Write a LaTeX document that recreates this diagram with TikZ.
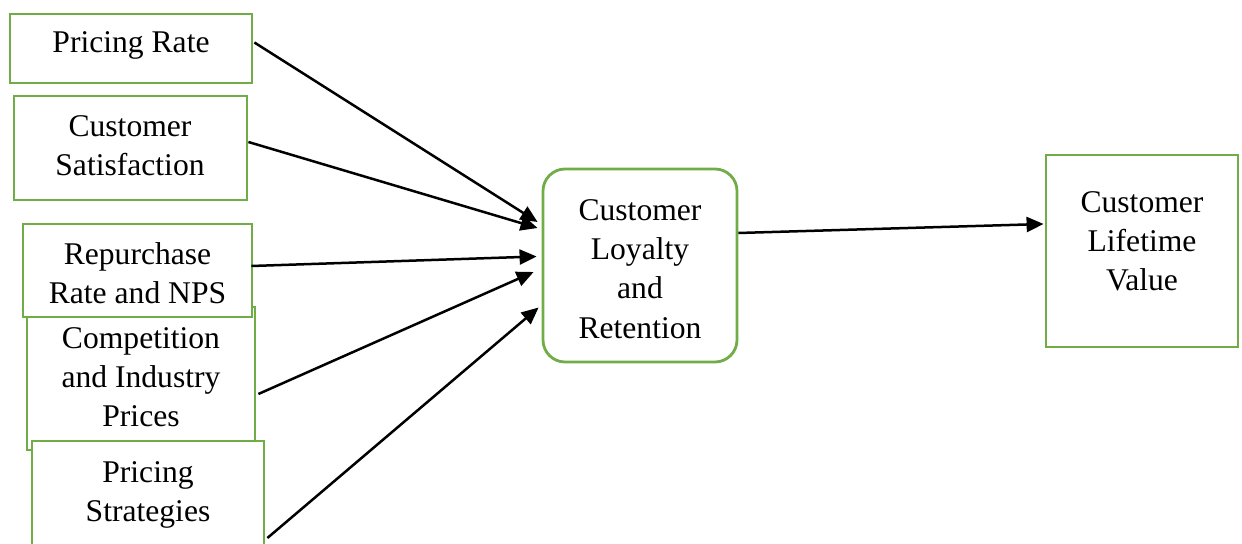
\documentclass[tikz,border=0pt]{standalone}
\usepackage{fontspec}
\setmainfont{Liberation Serif}
\usetikzlibrary{arrows.meta,calc}
\definecolor{boxgreen}{RGB}{112,173,71}
\begin{document}
\begin{tikzpicture}[x=0.5pt,y=-0.5pt,
  box/.style={draw=boxgreen, line width=1.4pt, fill=white, inner sep=0pt},
  rbox/.style={box, rounded corners=11pt},
  lbl/.style={align=center, inner sep=0pt, font=\fontsize{15.8pt}{19.6pt}\selectfont},
  link/.style={line width=1.25pt, -{Triangle[length=8.5pt,width=7.5pt]}}]
\useasboundingbox (0,0) rectangle (1242,544);
\clip (0,0) rectangle (1242,544);

% input factors (stacked, partly overlapping)
\node[box, minimum width=121pt, minimum height=34.5pt] (pr) at (131,48.5) {};
\node[lbl] at (131,45) {Pricing Rate};

\node[box, minimum width=116.5pt, minimum height=52pt] (cs) at (130.5,148) {};
\node[lbl] at (130,146) {Customer\\Satisfaction};

\node[box, minimum width=114pt, minimum height=71.5pt] (cp) at (141,378.5) {};
\node[lbl] at (141,377) {Competition\\and Industry\\Prices};

\node[box, minimum width=114.5pt, minimum height=46.5pt] (rp) at (137.5,270.5) {};
\node[lbl] at (137.5,273) {Repurchase\\Rate and NPS};

\node[box, minimum width=116pt, minimum height=59.5pt] (ps) at (148,500.5) {};
\node[lbl] at (148,495) {Pricing\\Strategies};

% mediator and outcome
\node[rbox, minimum width=97pt, minimum height=96.5pt] (cl) at (640,265.5) {};
\node[lbl] at (640,269) {Customer\\Loyalty\\and\\Retention};

\node[box, minimum width=96pt, minimum height=96pt] (clv) at (1142,251) {};
\node[lbl] at (1142,241) {Customer\\Lifetime\\Value};

% connectors
\draw[link] ($(pr.east)+(1,-6)$) -- ($(cl.west)+(-4,-43.5)$);
\draw[link] ($(cs.east)+(0,-6)$) -- ($(cl.west)+(-4,-37.5)$);
\draw[link] ($(rp.east)+(-2,-4.5)$) -- ($(cl.west)+(-5,-9)$);
\draw[link] ($(cp.east)+(2,15.5)$) -- ($(cl.west)+(-8,6.5)$);
\draw[link] ($(ps.east)+(2,37.5)$) -- ($(cl.west)+(-3,42)$);
\draw[link] ($(cl.east)+(0,-32.5)$) -- ($(clv.west)+(-1,-27)$);
\end{tikzpicture}
\end{document}
